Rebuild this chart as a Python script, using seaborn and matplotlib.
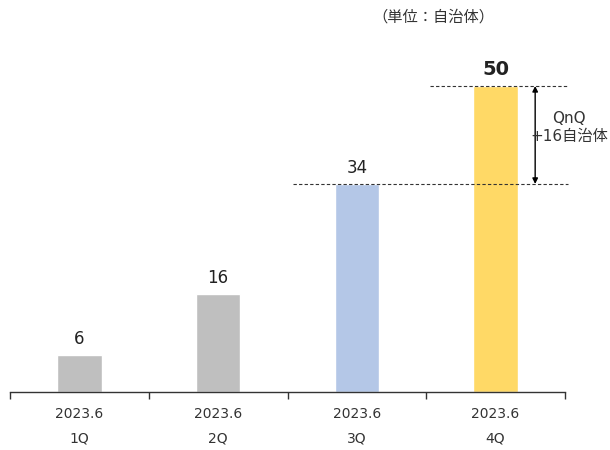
import matplotlib
matplotlib.use("Agg")
import matplotlib.pyplot as plt
import seaborn as sns
import pandas as pd

categories = ["2023.6\n1Q", "2023.6\n2Q", "2023.6\n3Q", "2023.6\n4Q"]
values = [6, 16, 34, 50]
colors = ["#BFBFBF", "#BFBFBF", "#B4C7E7", "#FFD966"]
unit_label = "（単位：自治体）"
qnq_label = "QnQ\n+16自治体"

sns.set_theme(style="white")
plt.rcParams['font.family'] = ['DejaVu Sans', 'Noto Sans CJK JP']

fig = plt.figure(figsize=(6.1, 4.5), dpi=100)
ax = fig.add_axes([10/610, 58/450, 555/610, 332/450])

df = pd.DataFrame({"cat": categories, "val": values})
sns.barplot(data=df, x="cat", y="val", hue="cat", palette=colors, width=0.32,
            legend=False, ax=ax, saturation=1)

ax.set_xlim(-0.5, 3.5)
ax.set_ylim(0, 54.25)
ax.set_xlabel("")
ax.set_ylabel("")
ax.set_yticks([])
for s in ["top", "right", "left"]:
    ax.spines[s].set_visible(False)
ax.spines["bottom"].set_color("#333333")
ax.spines["bottom"].set_linewidth(1)

ax.set_xticks([-0.5, 0.5, 1.5, 2.5, 3.5])
ax.set_xticklabels([])
ax.tick_params(axis="x", which="major", direction="out", length=5, width=1, color="#333333", bottom=True)
ax.set_xticks(range(len(categories)), minor=True)
ax.set_xticklabels(categories, minor=True, fontsize=10, color="#333333", linespacing=1.9)
ax.tick_params(axis="x", which="minor", length=0, pad=11)

for i, v in enumerate(values):
    bold = (i == len(values) - 1)
    ax.annotate(str(v), (i, v), xytext=(0, 5), textcoords="offset points",
                ha="center", va="bottom", fontsize=14 if bold else 12,
                fontweight="bold" if bold else "normal", color="#222222")

ax.plot([1.54, 3.52], [values[2], values[2]], ls=(0, (3, 2)), color="#333333", lw=0.8, clip_on=False)
ax.plot([2.53, 3.52], [values[3], values[3]], ls=(0, (3, 2)), color="#333333", lw=0.8, clip_on=False)
ax.annotate("", xy=(3.285, values[3]), xytext=(3.285, values[2]),
            arrowprops=dict(arrowstyle="<|-|>", color="black", lw=1, mutation_scale=8,
                            shrinkA=0, shrinkB=0), annotation_clip=False)
ax.text(3.53, 43.2, qnq_label, ha="center", va="center", fontsize=11,
        color="#333333", linespacing=1.2, clip_on=False,
        family=['DejaVu Sans', 'Noto Sans CJK JP'])

fig.text(433/610, 1 - 17/450, unit_label, ha="center", va="center", fontsize=11,
         color="#333333", family=['Noto Sans CJK JP', 'DejaVu Sans'])

fig.savefig("out.png", dpi=100)
